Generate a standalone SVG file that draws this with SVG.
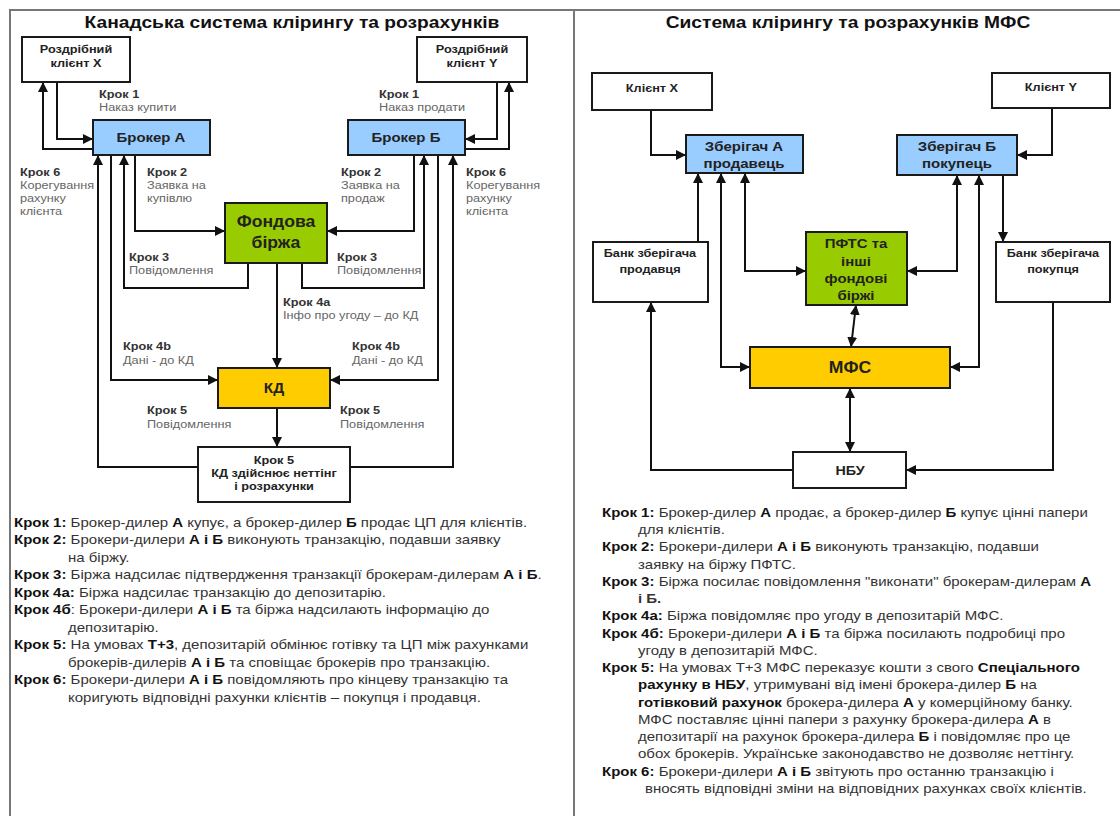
<svg xmlns="http://www.w3.org/2000/svg" width="1120" height="816" viewBox="0 0 1120 816">
<style>
text{font-family:"Liberation Sans",Arial,sans-serif;transform-box:fill-box}
.frame{fill:none;stroke:#777;stroke-width:2}
.box{stroke:#1a1a1a;stroke-width:2}
.white{fill:#fff}
.blue{fill:#99CCFF}
.green{fill:#99CC00}
.yellow{fill:#FFCC00}
.conn{fill:none;stroke:#111;stroke-width:2}
.end{marker-end:url(#arr)}
.both{marker-end:url(#arr);marker-start:url(#arr)}
.title{font-size:17px;font-weight:bold;fill:#111;text-anchor:middle;transform-origin:50% 50%;transform:scaleX(1.13)}
.nt{font-weight:bold;fill:#222;text-anchor:middle;transform-origin:50% 50%}
.w27{transform:scaleX(1.27)}
.w25{transform:scaleX(1.25)}
.w15{transform:scaleX(1.15)}
.w10{transform:scaleX(1.1)}
.lh{font-size:10px;font-weight:bold;fill:#333;transform-origin:0 50%;transform:scaleX(1.27)}
.ld{font-size:10px;fill:#666;transform-origin:0 50%;transform:scaleX(1.27)}
.st text{font-size:12.5px;fill:#333;transform-origin:0 50%;transform:scaleX(1.2)}
.b{font-weight:bold;fill:#111}
</style>
<defs>
<marker id="arr" viewBox="0 0 10 10" refX="10" refY="5" markerWidth="10" markerHeight="10" markerUnits="userSpaceOnUse" orient="auto-start-reverse">
<path d="M0,0 L10,5 L0,10 z" fill="#111"/>
</marker>
</defs>
<rect width="1120" height="816" fill="#fff"/>
<g id="frame">
<path class="frame" d="M10,816 V10 H1120"/>
<path class="frame" d="M574,10 V816"/>
</g>
<text class="title" x="292" y="28">Канадська система клірингу та розрахунків</text>
<text class="title" x="848" y="28">Система клірингу та розрахунків МФС</text>

<g id="connectors">
<path class="conn end" d="M57,82 V139 H93"/>
<path class="conn end" d="M93,149 H43 V82"/>
<path class="conn end" d="M497,82 V139 H465"/>
<path class="conn end" d="M465,149 H509 V82"/>
<path class="conn end" d="M135,155 V231 H225"/>
<path class="conn end" d="M414,155 V231 H327"/>
<path class="conn end" d="M248,263 V288 H124 V155"/>
<path class="conn end" d="M302,263 V288 H424 V155"/>
<path class="conn end" d="M277,263 V368"/>
<path class="conn end" d="M111,155 V380 H218"/>
<path class="conn end" d="M438,155 V380 H330"/>
<path class="conn end" d="M277,408 V447"/>
<path class="conn end" d="M198,467 H98 V155"/>
<path class="conn end" d="M350,467 H453 V155"/>

<path class="conn end" d="M651,110 V155 H686"/>
<path class="conn end" d="M1052,108 V155 H1017"/>
<path class="conn end" d="M698,242 V173"/>
<path class="conn both" d="M721,173 V367 H750"/>
<path class="conn both" d="M745,173 V271 H806"/>
<path class="conn both" d="M957,175 V271 H907"/>
<path class="conn both" d="M979,175 V367 H950"/>
<path class="conn end" d="M1003,175 V242"/>
<path class="conn both" d="M856,305 L851,347"/>
<path class="conn both" d="M850,388 V452"/>
<path class="conn end" d="M793,470 H651 V302"/>
<path class="conn end" d="M1053,302 V470 H906"/>
</g>

<g id="client-x">
<rect class="box white" x="22" y="37" width="108" height="45"/>
<text class="nt w27" font-size="10" x="76" y="53">Роздрібний</text>
<text class="nt w27" font-size="10" x="76" y="67">клієнт X</text>
</g>
<g id="client-y">
<rect class="box white" x="417" y="37" width="110" height="45"/>
<text class="nt w27" font-size="10" x="472" y="53">Роздрібний</text>
<text class="nt w27" font-size="10" x="472" y="67">клієнт Y</text>
</g>
<g id="broker-a">
<rect class="box blue" x="93" y="120" width="117" height="35"/>
<text class="nt w15" font-size="13" x="151" y="142">Брокер А</text>
</g>
<g id="broker-b">
<rect class="box blue" x="348" y="120" width="117" height="35"/>
<text class="nt w15" font-size="13" x="406" y="142">Брокер Б</text>
</g>
<g id="exchange">
<rect class="box green" x="225" y="203" width="102" height="60"/>
<text class="nt w10" font-size="16" x="276" y="227">Фондова</text>
<text class="nt w10" font-size="16" x="276" y="248">біржа</text>
</g>
<g id="kd">
<rect class="box yellow" x="218" y="368" width="112" height="40"/>
<text class="nt w10" font-size="14" x="274" y="393">КД</text>
</g>
<g id="settlement">
<rect class="box white" x="198" y="447" width="152" height="55"/>
<text class="nt w27" font-size="10" x="274" y="464">Крок 5</text>
<text class="nt w27" font-size="10" x="274" y="477">КД здійснює неттінг</text>
<text class="nt w27" font-size="10" x="274" y="490">і розрахунки</text>
</g>

<g id="labels-left">
<text class="lh" x="99" y="98">Крок 1</text>
<text class="ld" x="99" y="111">Наказ купити</text>
<text class="lh" x="379" y="98">Крок 1</text>
<text class="ld" x="379" y="111">Наказ продати</text>
<text class="lh" x="20" y="176">Крок 6</text>
<text class="ld" x="20" y="189">Корегування</text>
<text class="ld" x="20" y="202">рахунку</text>
<text class="ld" x="20" y="215">клієнта</text>
<text class="lh" x="466" y="176">Крок 6</text>
<text class="ld" x="466" y="189">Корегування</text>
<text class="ld" x="466" y="202">рахунку</text>
<text class="ld" x="466" y="215">клієнта</text>
<text class="lh" x="147" y="176">Крок 2</text>
<text class="ld" x="147" y="189">Заявка на</text>
<text class="ld" x="147" y="202">купівлю</text>
<text class="lh" x="341" y="176">Крок 2</text>
<text class="ld" x="341" y="189">Заявка на</text>
<text class="ld" x="341" y="202">продаж</text>
<text class="lh" x="129" y="261">Крок 3</text>
<text class="ld" x="129" y="274">Повідомлення</text>
<text class="lh" x="337" y="261">Крок 3</text>
<text class="ld" x="337" y="274">Повідомлення</text>
<text class="lh" x="283" y="306">Крок 4a</text>
<text class="ld" x="283" y="319">Інфо про угоду – до КД</text>
<text class="lh" x="123" y="350">Крок 4b</text>
<text class="ld" x="123" y="364">Дані - до КД</text>
<text class="lh" x="352" y="350">Крок 4b</text>
<text class="ld" x="352" y="364">Дані - до КД</text>
<text class="lh" x="147" y="414">Крок 5</text>
<text class="ld" x="147" y="428">Повідомлення</text>
<text class="lh" x="340" y="414">Крок 5</text>
<text class="ld" x="340" y="428">Повідомлення</text>
</g>

<g id="steps-left" class="st">
<text x="14" y="527"><tspan class="b">Крок 1:</tspan> Брокер-дилер <tspan class="b">А</tspan> купує, а брокер-дилер <tspan class="b">Б</tspan> продає ЦП для клієнтів.</text>
<text x="14" y="544.5"><tspan class="b">Крок 2:</tspan> Брокери-дилери <tspan class="b">А і Б</tspan> виконують транзакцію, подавши заявку</text>
<text x="68" y="562">на біржу.</text>
<text x="14" y="579.5"><tspan class="b">Крок 3:</tspan> Біржа надсилає підтвердження транзакції брокерам-дилерам <tspan class="b">А і Б</tspan>.</text>
<text x="14" y="597"><tspan class="b">Крок 4а:</tspan> Біржа надсилає транзакцію до депозитарію.</text>
<text x="14" y="614.5"><tspan class="b">Крок 4б</tspan>: Брокери-дилери <tspan class="b">А і Б</tspan> та біржа надсилають інформацію до</text>
<text x="68" y="632">депозитарію.</text>
<text x="14" y="649.5"><tspan class="b">Крок 5:</tspan> На умовах <tspan class="b">Т+3</tspan>, депозитарій обмінює готівку та ЦП між рахунками</text>
<text x="68" y="667">брокерів-дилерів <tspan class="b">А і Б</tspan> та сповіщає брокерів про транзакцію.</text>
<text x="14" y="684.5"><tspan class="b">Крок 6:</tspan> Брокери-дилери <tspan class="b">А і Б</tspan> повідомляють про кінцеву транзакцію та</text>
<text x="68" y="702">коригують відповідні рахунки клієнтів – покупця і продавця.</text>
</g>

<g id="client-x-r">
<rect class="box white" x="592" y="73" width="120" height="37"/>
<text class="nt w27" font-size="10" x="652" y="92">Клієнт X</text>
</g>
<g id="client-y-r">
<rect class="box white" x="992" y="73" width="118" height="35"/>
<text class="nt w27" font-size="10" x="1051" y="91">Клієнт Y</text>
</g>
<g id="custodian-a">
<rect class="box blue" x="686" y="135" width="117" height="38"/>
<text class="nt w25" font-size="12" x="744" y="151">Зберігач А</text>
<text class="nt w25" font-size="12" x="744" y="168">продавець</text>
</g>
<g id="custodian-b">
<rect class="box blue" x="897" y="135" width="120" height="40"/>
<text class="nt w25" font-size="12" x="957" y="151">Зберігач Б</text>
<text class="nt w25" font-size="12" x="957" y="168">покупець</text>
</g>
<g id="bank-seller">
<rect class="box white" x="593" y="242" width="115" height="60"/>
<text class="nt w27" font-size="10" x="650" y="257">Банк зберігача</text>
<text class="nt w27" font-size="10" x="650" y="273">продавця</text>
</g>
<g id="bank-buyer">
<rect class="box white" x="996" y="242" width="114" height="60"/>
<text class="nt w27" font-size="10" x="1053" y="257">Банк зберігача</text>
<text class="nt w27" font-size="10" x="1053" y="273">покупця</text>
</g>
<g id="pfts">
<rect class="box green" x="806" y="232" width="101" height="73"/>
<text class="nt w15" font-size="13" x="856" y="248">ПФТС та</text>
<text class="nt w15" font-size="13" x="856" y="266">інші</text>
<text class="nt w15" font-size="13" x="856" y="283">фондові</text>
<text class="nt w15" font-size="13" x="856" y="300">біржі</text>
</g>
<g id="mfs">
<rect class="box yellow" x="750" y="347" width="200" height="41"/>
<text class="nt w10" font-size="16" x="850" y="373">МФС</text>
</g>
<g id="nbu">
<rect class="box white" x="793" y="452" width="113" height="36"/>
<text class="nt w10" font-size="13" x="850" y="475">НБУ</text>
</g>

<g id="steps-right" class="st">
<text x="602" y="517"><tspan class="b">Крок 1:</tspan> Брокер-дилер <tspan class="b">А</tspan> продає, а брокер-дилер <tspan class="b">Б</tspan> купує цінні папери</text>
<text x="638" y="534.25">для клієнтів.</text>
<text x="602" y="551.5"><tspan class="b">Крок 2:</tspan> Брокери-дилери <tspan class="b">А і Б</tspan> виконують транзакцію, подавши</text>
<text x="638" y="568.75">заявку на біржу ПФТС.</text>
<text x="602" y="586"><tspan class="b">Крок 3:</tspan> Біржа посилає повідомлення "виконати" брокерам-дилерам <tspan class="b">А</tspan></text>
<text x="638" y="603.25" class="b">і Б.</text>
<text x="602" y="620.5"><tspan class="b">Крок 4а:</tspan> Біржа повідомляє про угоду в депозитарій МФС.</text>
<text x="602" y="637.75"><tspan class="b">Крок 4б:</tspan> Брокери-дилери <tspan class="b">А і Б</tspan> та біржа посилають подробиці про</text>
<text x="638" y="655">угоду в депозитарій МФС.</text>
<text x="602" y="672.25"><tspan class="b">Крок 5:</tspan> На умовах Т+3 МФС переказує кошти з свого <tspan class="b">Спеціального</tspan></text>
<text x="638" y="689.5"><tspan class="b">рахунку в НБУ</tspan>, утримувані від імені брокера-дилер <tspan class="b">Б</tspan> на</text>
<text x="638" y="706.75"><tspan class="b">готівковий рахунок</tspan> брокера-дилера <tspan class="b">А</tspan> у комерційному банку.</text>
<text x="638" y="724">МФС поставляє цінні папери з рахунку брокера-дилера <tspan class="b">А</tspan> в</text>
<text x="638" y="741.25">депозитарії на рахунок брокера-дилера <tspan class="b">Б</tspan> і повідомляє про це</text>
<text x="638" y="758.5">обох брокерів. Українське законодавство не дозволяє неттінгу.</text>
<text x="602" y="775.75"><tspan class="b">Крок 6:</tspan> Брокери-дилери <tspan class="b">А і Б</tspan> звітують про останню транзакцію і</text>
<text x="645" y="793">вносять відповідні зміни на відповідних рахунках своїх клієнтів.</text>
</g>
</svg>
